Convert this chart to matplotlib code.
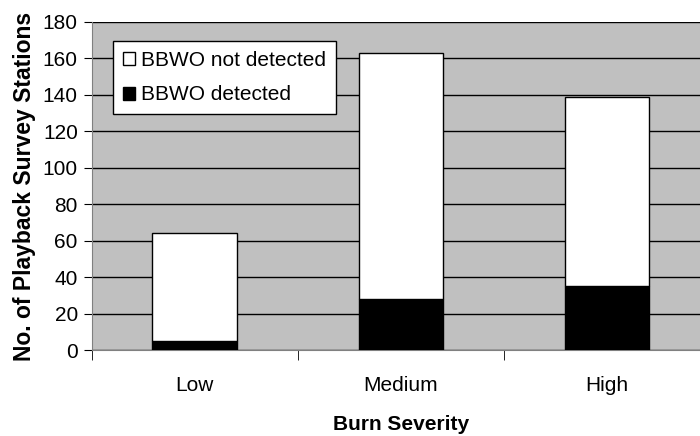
import numpy as np
import matplotlib.pyplot as plt

# data
categories = ['Low', 'Medium', 'High']
detected = [5, 28, 35]
not_detected = [59, 135, 104]
y_ticks = [0, 20, 40, 60, 80, 100, 120, 140, 160, 180]

plt.rcParams['font.family'] = ['Liberation Sans', 'DejaVu Sans']
plt.rcParams['font.size'] = 15

fig = plt.figure(figsize=(7, 4.36), dpi=100)
ax = fig.add_axes([0.131, 0.197, 0.883, 0.753])
ax.set_facecolor('#C0C0C0')

x = np.arange(len(categories))
width = 0.41
ax.bar(x, detected, width, color='black', edgecolor='black', linewidth=1,
       label='BBWO detected', zorder=3)
ax.bar(x, not_detected, width, bottom=detected, color='white', edgecolor='black',
       linewidth=1, label='BBWO not detected', zorder=3)

ax.set_xlim(-0.5, 2.5)
ax.set_ylim(0, 180)
ax.set_yticks(y_ticks)
ax.yaxis.grid(True, color='black', linewidth=1)
ax.set_axisbelow(True)

# category labels centred, ticks between categories
ax.set_xticks(x)
ax.set_xticklabels(categories)
ax.tick_params(axis='x', which='major', length=0, pad=19)
ax.set_xticks(np.arange(-0.5, 3.0, 1.0), minor=True)
ax.tick_params(axis='x', which='minor', length=7, color='black')
ax.tick_params(axis='y', length=6, pad=4, color='black')

for s in ['top', 'right']:
    ax.spines[s].set_visible(False)
for s in ['left', 'bottom']:
    ax.spines[s].set_color('#808080')

ax.set_ylabel('No. of Playback Survey Stations', fontweight='bold',
              fontsize=16.5, labelpad=5)
ax.set_xlabel('Burn Severity', fontweight='bold', labelpad=14)

handles, labels = ax.get_legend_handles_labels()
leg = ax.legend(handles[::-1], labels[::-1], loc='upper left',
                bbox_to_anchor=(0.035, 0.94), frameon=True, fancybox=False,
                edgecolor='black', facecolor='white', framealpha=1,
                handlelength=0.6, handleheight=0.6, handletextpad=0.3,
                borderpad=0.45, labelspacing=0.75, borderaxespad=0)
leg.get_frame().set_linewidth(1)

fig.savefig('out.png', dpi=100)
